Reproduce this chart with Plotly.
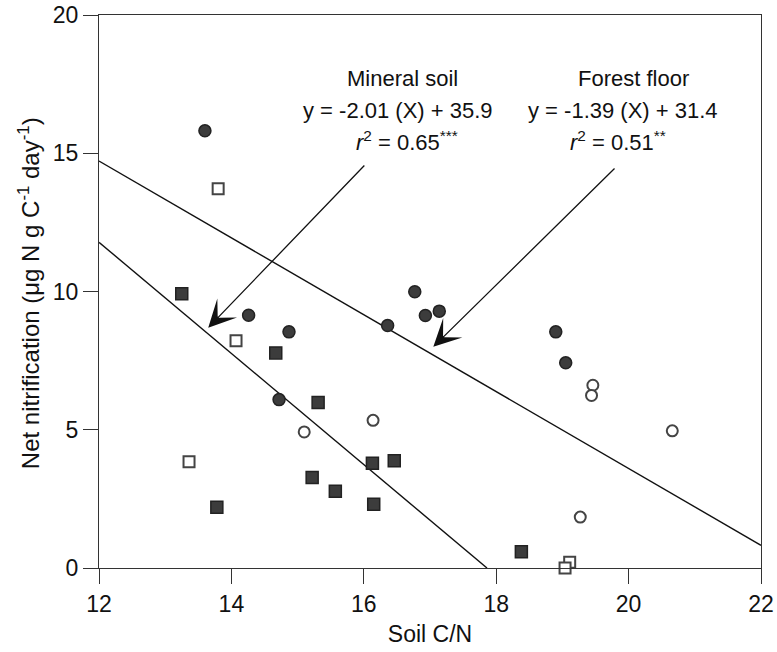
import plotly.graph_objects as go

# Forest floor (circles)
ff_filled_x = [13.60, 14.26, 14.87, 16.36, 14.72, 16.77, 16.93, 17.14, 18.90, 19.05]
ff_filled_y = [15.81, 9.14, 8.54, 8.77, 6.09, 9.99, 9.13, 9.29, 8.54, 7.42]
ff_open_x = [16.14, 15.10, 19.46, 19.44, 20.66, 19.27]
ff_open_y = [5.34, 4.92, 6.61, 6.24, 4.96, 1.84]

# Mineral soil (squares)
ms_filled_x = [13.25, 14.67, 15.31, 16.13, 16.46, 15.22, 15.57, 16.15, 13.78, 18.38]
ms_filled_y = [9.92, 7.78, 5.99, 3.79, 3.88, 3.27, 2.78, 2.31, 2.20, 0.59]
ms_open_x = [13.80, 14.07, 13.36, 19.11, 19.04]
ms_open_y = [13.72, 8.22, 3.84, 0.21, 0.0]

# Regression lines (slope, intercept) and their x extents
fit_names = ["Mineral soil", "Forest floor"]
fit_slopes = [-2.01, -1.39]
fit_intercepts = [35.9, 31.4]
fit_x_ranges = [[12, 35.9 / 2.01], [12, 22]]

x_ticks = [12, 14, 16, 18, 20, 22]
y_ticks = [0, 5, 10, 15, 20]

FONT = "Liberation Sans, Arial, Helvetica, sans-serif"
DARK = "#3c3c3c"
EDGE = "#222222"

fig = go.Figure()

for name, m, b, xr in zip(fit_names, fit_slopes, fit_intercepts, fit_x_ranges):
    fig.add_trace(go.Scatter(
        x=xr, y=[m * xv + b for xv in xr], mode="lines",
        line=dict(color="#111111", width=1.4), showlegend=False, hoverinfo="skip"))

fig.add_trace(go.Scatter(x=ff_filled_x, y=ff_filled_y, mode="markers",
    marker=dict(symbol="circle", size=12, color=DARK, line=dict(color=EDGE, width=1.5)),
    showlegend=False, cliponaxis=False))
fig.add_trace(go.Scatter(x=ff_open_x, y=ff_open_y, mode="markers",
    marker=dict(symbol="circle", size=11, color="white", line=dict(color="#444444", width=2)),
    showlegend=False, cliponaxis=False))
fig.add_trace(go.Scatter(x=ms_filled_x, y=ms_filled_y, mode="markers",
    marker=dict(symbol="square", size=12, color=DARK, line=dict(color=EDGE, width=1.5)),
    showlegend=False, cliponaxis=False))
fig.add_trace(go.Scatter(x=ms_open_x, y=ms_open_y, mode="markers",
    marker=dict(symbol="square", size=11, color="white", line=dict(color="#444444", width=2)),
    showlegend=False, cliponaxis=False))

txt_font = dict(family=FONT, size=22, color="#111111")
labels = [
    (16.58, 17.72, "Mineral soil"),
    (16.52, 16.56, "y = -2.01 (X) + 35.9"),
    (16.65, 15.44, "<i>r</i><sup>2</sup> = 0.65<sup>***</sup>"),
    (20.07, 17.72, "Forest floor"),
    (19.92, 16.56, "y = -1.39 (X) + 31.4"),
    (19.84, 15.44, "<i>r</i><sup>2</sup> = 0.51<sup>**</sup>"),
]
for x, y, t in labels:
    fig.add_annotation(x=x, y=y, xref="x", yref="y", text=t, showarrow=False,
                       font=txt_font, xanchor="center", yanchor="middle")

arrows = [((13.65, 8.69), (16.03, 14.61)), ((17.05, 8.00), (19.81, 14.50))]
for (tx, ty), (sx, sy) in arrows:
    fig.add_annotation(x=tx, y=ty, ax=sx, ay=sy, xref="x", yref="y", axref="x", ayref="y",
                       text="", showarrow=True, arrowhead=3, arrowsize=3.5, arrowwidth=1.3,
                       arrowcolor="#111111")

# y-axis title as an annotation for precise placement
fig.add_annotation(x=0, y=0.497, xref="paper", yref="paper", xshift=-70,
                   text="Net nitrification (μg N g C<sup>-1</sup> day<sup>-1</sup>)",
                   textangle=-90, showarrow=False, xanchor="center", yanchor="middle",
                   font=dict(family=FONT, size=24, color="#111111"))

axis_common = dict(showline=True, mirror=True, linecolor="#333333", linewidth=1.3,
                   ticks="outside", ticklen=15, tickwidth=1.3, tickcolor="#333333",
                   showgrid=False, zeroline=False, automargin=False,
                   tickfont=dict(family=FONT, size=23, color="#111111"))

fig.update_xaxes(range=[12, 22], tickvals=x_ticks, ticktext=[str(v) for v in x_ticks],
                 title=dict(text="Soil C/N", font=dict(family=FONT, size=23, color="#111111"), standoff=10),
                 **axis_common)
fig.update_yaxes(range=[0, 20], tickvals=y_ticks, ticktext=[str(v) for v in y_ticks],
                 **axis_common)

fig.update_layout(width=777, height=652, margin=dict(l=99, r=16, t=15, b=84),
                  plot_bgcolor="white", paper_bgcolor="white")

fig.write_html("out.html")
